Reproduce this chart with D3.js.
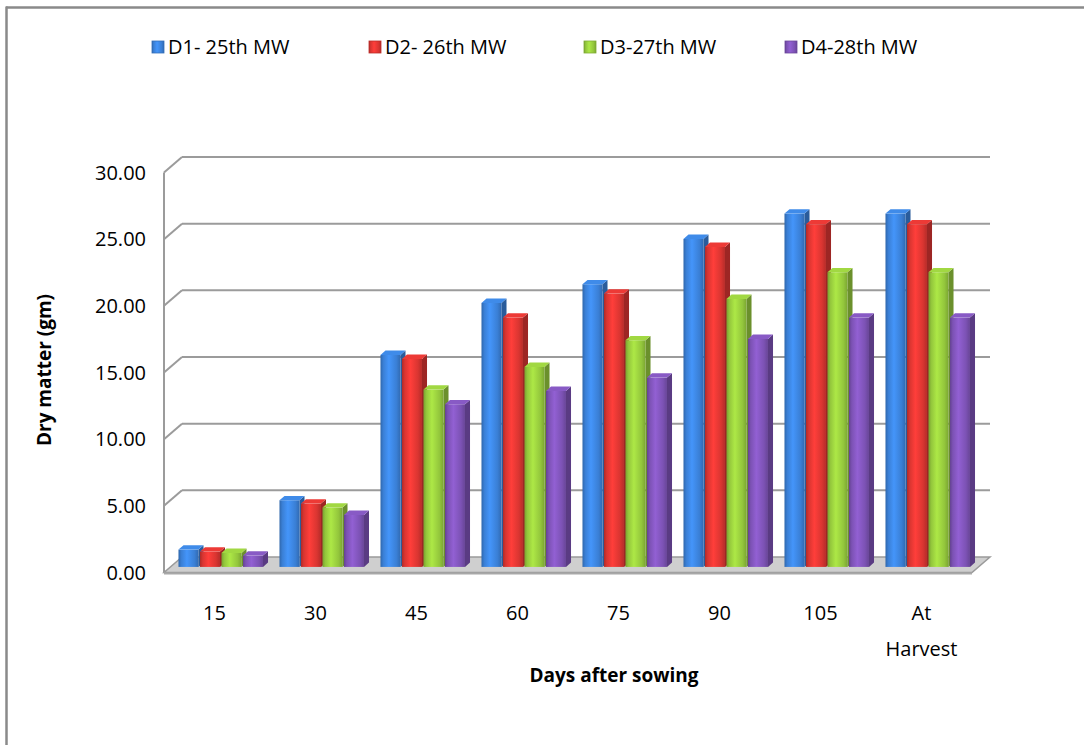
<!DOCTYPE html>
<html>
<head>
<meta charset="utf-8">
<script src="https://cdn.jsdelivr.net/npm/d3@7"></script>
<style>
  html, body { margin: 0; padding: 0; background: #fff; }
  svg { display: block; }
  text { font-family: "Open Sans", "Noto Sans", sans-serif; fill: #000; }
</style>
</head>
<body>
<svg id="chart" width="1084" height="745"></svg>
<script>
// Dry matter accumulation by sowing date
const categories = ["15", "30", "45", "60", "75", "90", "105", "At Harvest"];
const seriesNames = ["D1- 25th MW", "D2- 26th MW", "D3-27th MW", "D4-28th MW"];
const d1Values = [1.30, 5.00, 15.90, 19.80, 21.20, 24.60, 26.50, 26.50];
const d2Values = [1.15, 4.75, 15.60, 18.70, 20.50, 24.00, 25.70, 25.70];
const d3Values = [1.05, 4.45, 13.30, 15.00, 17.00, 20.10, 22.10, 22.10];
const d4Values = [0.85, 3.90, 12.20, 13.20, 14.20, 17.10, 18.70, 18.70];
const yTicks = [0, 5, 10, 15, 20, 25, 30];
const seriesColors = ["#3a7fd5", "#d93531", "#93c63c", "#7c52b4"];

const seriesValues = [d1Values, d2Values, d3Values, d4Values];

const svg = d3.select("#chart");

// outer frame
svg.append("line").attr("x1", 6).attr("x2", 1084).attr("y1", 7.5).attr("y2", 7.5)
  .attr("stroke", "#8a8a8a").attr("stroke-width", 2.5);
svg.append("line").attr("x1", 6.5).attr("x2", 6.5).attr("y1", 6.5).attr("y2", 745)
  .attr("stroke", "#8a8a8a").attr("stroke-width", 2.5);

// plot geometry (front plane) and depth projection
const X0 = 164, X1 = 972, YB = 572.5, YT = 172.5;
const DX = 18, DY = 15.5;

const x0 = d3.scaleBand().domain(categories).range([X0, X1]).padding(0);
const x1 = d3.scaleBand().domain(seriesNames).range([8, 94]).padding(0);
const y = d3.scaleLinear().domain([0, 30]).range([YB, YT]);

const defs = svg.append("defs");
function shade(c, k) { return d3.color(c).darker(k).formatHex(); }
function tint(c, k) { return d3.color(c).brighter(k).formatHex(); }
seriesColors.forEach((c, i) => {
  const g = defs.append("linearGradient").attr("id", "front" + i)
    .attr("x1", "0%").attr("x2", "100%").attr("y1", "0%").attr("y2", "0%");
  [[0, shade(c, 0.6)], [0.14, c], [0.42, tint(c, 0.45)], [0.8, c], [1, shade(c, 0.5)]]
    .forEach(([o, col]) => g.append("stop").attr("offset", o).attr("stop-color", col));
});

const gridColor = "#9b9b9b";
const wall = svg.append("g");

// back wall gridlines and left wall diagonals
yTicks.filter(t => t > 0).forEach(t => {
  const yy = y(t);
  wall.append("line").attr("x1", X0 + DX).attr("x2", X1 + DX)
    .attr("y1", yy - DY).attr("y2", yy - DY)
    .attr("stroke", gridColor).attr("stroke-width", 2);
  wall.append("line").attr("x1", X0).attr("x2", X0 + DX)
    .attr("y1", yy).attr("y2", yy - DY)
    .attr("stroke", gridColor).attr("stroke-width", 2);
});
wall.append("line").attr("x1", X0).attr("x2", X0).attr("y1", YB).attr("y2", YT)
  .attr("stroke", gridColor).attr("stroke-width", 2);

// floor
wall.append("polygon")
  .attr("points", [[X0, YB], [X1, YB], [X1 + DX, YB - DY], [X0 + DX, YB - DY]].map(p => p.join(",")).join(" "))
  .attr("fill", "#cfcfcf").attr("stroke", "#9a9a9a").attr("stroke-width", 1.5);
wall.append("line").attr("x1", X0).attr("x2", X1).attr("y1", YB + 1).attr("y2", YB + 1)
  .attr("stroke", "#a8a8a8").attr("stroke-width", 2);

// bars: placed in the middle of the depth
const dFront = 0.36, dBack = 0.64;
const fx = DX * dFront, fy = DY * dFront;
const sx = DX * (dBack - dFront), sy = DY * (dBack - dFront);
const barW = x1.bandwidth() - 1.5;

const barsG = svg.append("g");
categories.forEach((cat, ci) => {
  seriesNames.forEach((s, si) => {
    const v = seriesValues[si][ci];
    const left = x0(cat) + x1(s) + fx;
    const right = left + barW;
    const top = y(v) - fy;
    const bottom = y(0) - fy;
    const c = seriesColors[si];
    const g = barsG.append("g");
    // side face
    g.append("polygon")
      .attr("points", [[right, bottom], [right + sx, bottom - sy], [right + sx, top - sy], [right, top]].map(p => p.join(",")).join(" "))
      .attr("fill", shade(c, 0.9));
    // front face
    g.append("rect").attr("x", left).attr("y", top).attr("width", barW).attr("height", bottom - top)
      .attr("fill", `url(#front${si})`);
    // top face
    g.append("polygon")
      .attr("points", [[left, top], [right, top], [right + sx, top - sy], [left + sx, top - sy]].map(p => p.join(",")).join(" "))
      .attr("fill", tint(c, 0.25));
  });
});

// y axis tick labels
svg.append("g").selectAll("text").data(yTicks).join("text")
  .attr("x", 146).attr("y", d => y(d)).attr("dy", "0.35em")
  .attr("text-anchor", "end").attr("font-size", 20)
  .text(d => d3.format(".2f")(d));

// category labels
const catG = svg.append("g");
categories.forEach(cat => {
  const cx = x0(cat) + x0.bandwidth() / 2;
  const words = cat === "At Harvest" ? ["At", "Harvest"] : [cat];
  words.forEach((w, i) => {
    catG.append("text").attr("x", cx).attr("y", 613 + i * 36).attr("dy", "0.35em")
      .attr("text-anchor", "middle").attr("font-size", 20).text(w);
  });
});

// axis titles
svg.append("text").attr("x", 614).attr("y", 675).attr("dy", "0.35em")
  .attr("text-anchor", "middle").attr("font-size", 19).attr("font-weight", "bold")
  .text("Days after sowing");
svg.append("text").attr("transform", "translate(44,370) rotate(-90)").attr("dy", "0.35em")
  .attr("text-anchor", "middle").attr("font-size", 19).attr("font-weight", "bold")
  .text("Dry matter (gm)");

// legend
const legendX = [152, 369, 584, 785];
const legend = svg.append("g");
seriesNames.forEach((s, i) => {
  const lx = legendX[i];
  legend.append("rect").attr("x", lx).attr("y", 41).attr("width", 12).attr("height", 12)
    .attr("fill", `url(#front${i})`).attr("stroke", shade(seriesColors[i], 0.4)).attr("stroke-width", 0.8);
  legend.append("text").attr("x", lx + 16).attr("y", 47).attr("dy", "0.35em")
    .attr("font-size", 20).text(s);
});
</script>
</body>
</html>
